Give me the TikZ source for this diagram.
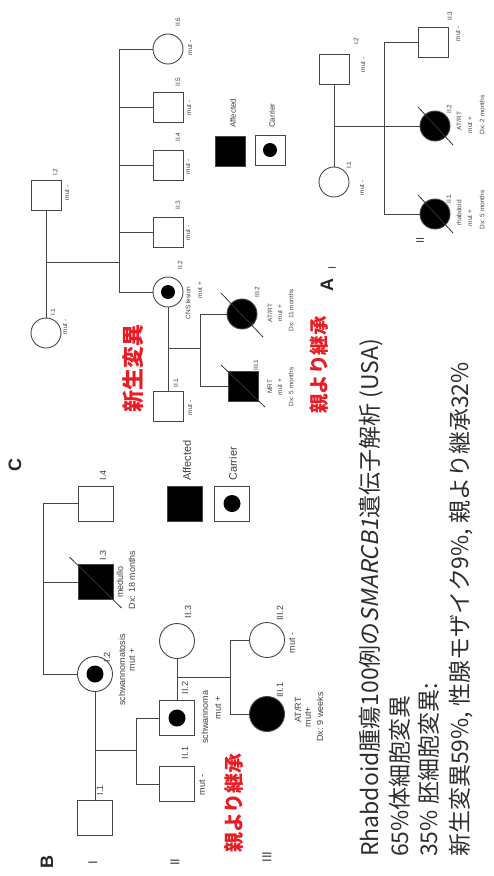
\documentclass[tikz,border=0pt]{standalone}
\usepackage{fontspec}
\setmainfont{Liberation Sans}
\newfontfamily\cjk{Noto Sans CJK JP}
\newfontfamily\cjkit{Noto Sans CJK JP}[FakeSlant=0.2]
\usetikzlibrary{calc}
\definecolor{redj}{RGB}{232,28,36}
\definecolor{ln}{RGB}{70,70,70}
\begin{document}
\begin{tikzpicture}[x=1pt,y=-1pt,
  ped/.style={draw=ln, line width=0.9pt, inner sep=0pt, outer sep=0pt},
  sqC/.style={ped, rectangle, minimum size=30pt},
  ciC/.style={ped, circle, minimum size=30pt},
  sqB/.style={ped, rectangle, minimum size=35pt},
  ciB/.style={ped, circle, minimum size=35pt},
  aff/.style={fill=black},
  dotC/.style={circle, fill=black, minimum size=14pt, inner sep=0pt},
  dotB/.style={circle, fill=black, minimum size=17pt, inner sep=0pt},
  conn/.style={draw=ln, line width=0.9pt},
  dec/.style={draw=black!80, line width=0.8pt},
  lbC/.style={rotate=90, inner sep=0pt, text=black!75, font=\fontsize{6.5}{7}\selectfont},
  lbB/.style={rotate=90, inner sep=0pt, text=black!75, font=\fontsize{9}{10}\selectfont},
  big/.style={rotate=90, anchor=base west, inner sep=0pt, text=black!82, font=\cjk\fontsize{23}{26}\selectfont},
  redt/.style={rotate=90, inner sep=0pt, text=redj, font=\cjk\bfseries\fontsize{20}{22}\selectfont},
  gen/.style={rotate=90, inner sep=0pt, text=black!85, font=\bfseries\fontsize{18}{20}\selectfont},
  romanB/.style={rotate=90, inner sep=0pt, text=black!75, font=\fontsize{13}{14}\selectfont},
  romanA/.style={rotate=90, inner sep=0pt, text=black!75, font=\fontsize{11}{12}\selectfont}
]
\useasboundingbox (0,0) rectangle (493,876);

% ================= Pedigree C =================
\node[gen] (labC) at (15,465) {C};
\node[sqC] (CI2) at (46,195) {};
\node[ciC] (CI1) at (46,333) {};
\node[lbC] (tCI2) at (55,172) {I.2};
\node[lbC] (tCI2m) at (67,193) {mut -};
\node[lbC] (tCI1) at (53,312) {I.1};
\node[lbC] (tCI1m) at (65,327) {mut -};
\draw[conn] (CI2) -- (CI1);
\coordinate (cd) at (46,262);
\coordinate (cs) at (119,262);
\draw[conn] (cd) -- (cs);
\node[ciC] (CII6) at (168,49) {};
\node[sqC] (CII5) at (168,107) {};
\node[sqC] (CII4) at (168,165) {};
\node[sqC] (CII3) at (168,232) {};
\node[ciC] (CII2) at (168,292) {};
\node[dotC] (CII2d) at (CII2) {};
\node[sqC] (CII1) at (168,406) {};
\draw[conn] (cs |- CII6) -- (cs |- CII2);
\foreach \n in {CII6,CII5,CII4,CII3,CII2} \draw[conn] (cs |- \n) -- (\n);
\node[lbC] (tCII6) at (178,22) {II.6};
\node[lbC] (tCII6m) at (190,48) {mut -};
\node[lbC] (tCII5) at (178,82) {II.5};
\node[lbC] (tCII5m) at (189,108) {mut -};
\node[lbC] (tCII4) at (178,137) {II.4};
\node[lbC] (tCII4m) at (188,167) {mut -};
\node[lbC] (tCII3) at (178,205) {II.3};
\node[lbC] (tCII3m) at (188,233) {mut -};
\node[lbC] (tCII2) at (180,265) {II.2};
\node[lbC] (tCII2a) at (188,303) {CNS lesion};
\node[lbC] (tCII2m) at (200,290) {mut +};
\node[lbC] (tCII1) at (176,383) {II.1};
\node[lbC] (tCII1m) at (190,408) {mut -};
\draw[conn] (CII2) -- (CII1);
\coordinate (cd2) at (168,348);
\coordinate (cs2) at (200,348);
\draw[conn] (cd2) -- (cs2);
\node[ciC,aff] (CIII2) at (242,314) {};
\node[sqC,aff] (CIII1) at (243,386) {};
\draw[conn] (cs2 |- CIII2) -- (cs2 |- CIII1);
\draw[conn] (cs2 |- CIII2) -- (CIII2);
\draw[conn] (cs2 |- CIII1) -- (CIII1);
\draw[dec] ($(CIII2)+(-21,-21)$) -- ($(CIII2)+(21,23)$);
\draw[dec] ($(CIII1)+(-22,-21)$) -- ($(CIII1)+(22,21)$);
\node[lbC] (tCIII2) at (257,292) {III.2};
\node[lbC] (tCIII2a) at (270,313) {AT/RT};
\node[lbC] (tCIII2m) at (280,313) {mut +};
\node[lbC] (tCIII2d) at (291,310) {Dx: 11 months};
\node[lbC] (tCIII1) at (256,365) {III.1};
\node[lbC] (tCIII1a) at (270,387) {MRT};
\node[lbC] (tCIII1m) at (280,387) {mut +};
\node[lbC] (tCIII1d) at (291,387) {Dx: 5 months};
% legend C
\node[sqC,aff] (LCa) at (230,151) {};
\node[lbC, anchor=west, font=\fontsize{8}{9}\selectfont] (tLCa) at (233,128) {Affected};
\node[sqC] (LCc) at (270,150) {};
\node[dotC] (LCcd) at (LCc) {};
\node[lbC, anchor=west, font=\fontsize{8}{9}\selectfont] (tLCc) at (272,128) {Carrier};
\node[redt, font=\cjk\bfseries\fontsize{22}{24}\selectfont] (rC1) at (133,368) {新生変異};
\node[redt, font=\cjk\bfseries\fontsize{19.5}{21}\selectfont] (rC2) at (319,365) {親より継承};

% ================= Pedigree A =================
\node[gen] (labA) at (327,285) {A};
\node[romanA] (gA1) at (332,268) {I};
\node[romanA] (gA2) at (420,240) {II};
\node[sqC] (AI2) at (334,69) {};
\node[ciC] (AI1) at (334,182) {};
\draw[conn] (AI2) -- (AI1);
\coordinate (ad) at (334,126);
\coordinate (as) at (384,126);
\draw[conn] (ad) -- (as);
\node[sqC] (AII3) at (433,42) {};
\node[ciC,aff] (AII2) at (435,126) {};
\node[ciC,aff] (AII1) at (435,214) {};
\draw[conn] (as |- AII3) -- (as |- AII1);
\foreach \n in {AII3,AII2,AII1} \draw[conn] (as |- \n) -- (\n);
\draw[dec] ($(AII2)+(-17,-19)$) -- ($(AII2)+(18,19)$);
\draw[dec] ($(AII1)+(-17,-19)$) -- ($(AII1)+(18,19)$);
\node[lbC] (tAI2) at (356,41) {I.2};
\node[lbC] (tAI2m) at (363,65) {mut -};
\node[lbC] (tAI1) at (349,165) {I.1};
\node[lbC] (tAI1m) at (362,188) {mut -};
\node[lbC] (tAII3) at (450,16) {II.3};
\node[lbC] (tAII3m) at (458,34) {mut -};
\node[lbC] (tAII2) at (449,109) {II.2};
\node[lbC] (tAII2a) at (459,121) {AT/RT};
\node[lbC] (tAII2m) at (470,125) {mut +};
\node[lbC] (tAII2d) at (482,115) {Dx: 2 months};
\node[lbC] (tAII1) at (449,199) {II.1};
\node[lbC] (tAII1a) at (459,213) {rhabdoid};
\node[lbC] (tAII1m) at (470,218) {mut +};
\node[lbC] (tAII1d) at (482,210) {Dx: 5 months};

% ================= Pedigree B =================
\node[gen] (labB) at (47,862) {B};
\node[romanB] (gB1) at (93,863) {I};
\node[romanB] (gB2) at (175,862) {II};
\node[romanB] (gB3) at (267,857) {III};
\node[sqB] (BI1) at (95,818) {};
\node[ciB] (BI2) at (95,674) {};
\node[dotB] (BI2d) at (BI2) {};
\node[sqB,aff] (BI3) at (95.5,582) {};
\node[sqB] (BI4) at (95.5,503.5) {};
\coordinate (bs0) at (43,504);
\draw[conn] (bs0 |- BI4) -- (bs0 |- BI2);
\foreach \n in {BI4,BI3,BI2} \draw[conn] (bs0 |- \n) -- (\n);
\draw[dec] ($(BI3)+(-26,-25)$) -- ($(BI3)+(26,26)$);
\draw[conn] (BI2) -- (BI1);
\coordinate (bd) at (95,750);
\coordinate (bs) at (136,750);
\draw[conn] (bd) -- (bs);
\node[sqB] (BII2) at (177,718) {};
\node[dotB] (BII2d) at (BII2) {};
\node[sqB] (BII1) at (177,784) {};
\node[ciB] (BII3) at (177,641) {};
\draw[conn] (bs |- BII2) -- (bs |- BII1);
\foreach \n in {BII2,BII1} \draw[conn] (bs |- \n) -- (\n);
\draw[conn] (BII3) -- (BII2);
\coordinate (bd2) at (177,677);
\coordinate (bs2) at (230,677);
\draw[conn] (bd2) -- (bs2);
\node[ciB] (BIII2) at (267,640) {};
\node[ciB,aff] (BIII1) at (267,714) {};
\draw[conn] (bs2 |- BIII2) -- (bs2 |- BIII1);
\foreach \n in {BIII2,BIII1} \draw[conn] (bs2 |- \n) -- (\n);
\node[lbB] (tBI1) at (100,790) {I.1};
\node[lbB] (tBI2) at (107,657) {I.2};
\node[lbB] (tBI2a) at (122,670) {schwannomatosis};
\node[lbB] (tBI2m) at (132,660) {mut +};
\node[lbB] (tBI3) at (103,555) {I.3};
\node[lbB] (tBI3a) at (120,582) {medullo};
\node[lbB] (tBI3d) at (132,580) {Dx: 18 months};
\node[lbB] (tBI4) at (103,475) {I.4};
\node[lbB] (tBII3) at (188,612) {II.3};
\node[lbB] (tBII2) at (185,688) {II.2};
\node[lbB] (tBII2a) at (205,717) {schwannoma};
\node[lbB] (tBII2m) at (218,708) {mut +};
\node[lbB] (tBII1) at (185,753) {II.1};
\node[lbB] (tBII1m) at (202,785) {mut -};
\node[lbB] (tBIII2) at (280,613) {III.2};
\node[lbB] (tBIII2m) at (292,643) {mut -};
\node[lbB] (tBIII1) at (280,690) {III.1};
\node[lbB] (tBIII1a) at (298,710) {AT/RT};
\node[lbB] (tBIII1m) at (308,717) {mut+};
\node[lbB] (tBIII1d) at (320,717) {Dx: 9 weeks};
% legend B
\node[sqB,aff] (LBa) at (184.5,503.5) {};
\node[lbB, anchor=west, font=\fontsize{11}{12}\selectfont] (tLBa) at (187,481) {Affected};
\node[sqB] (LBc) at (232,503.5) {};
\node[dotB] (LBcd) at (LBc) {};
\node[lbB, anchor=west, font=\fontsize{11}{12}\selectfont] (tLBc) at (233,481) {Carrier};
\node[redt] (rB) at (234,803) {親より継承};

% ================= Summary text =================
\node[big] (s1) at (378,857) {Rhabdoid腫瘍100例の{\cjkit SMARCB1}遺伝子解析 (USA)};
\node[big] (s2) at (408,857) {65\%体細胞変異};
\node[big] (s3) at (437,857) {35\% 胚細胞変異:};
\node[big] (s4) at (468,857) {新生変異59\%, 性腺モザイク9\%, 親より継承32\%};
\end{tikzpicture}
\end{document}
